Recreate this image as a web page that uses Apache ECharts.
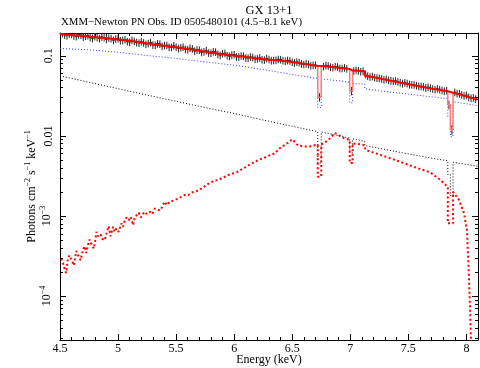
<!DOCTYPE html>
<html><head><meta charset="utf-8">
<script src="https://cdn.jsdelivr.net/npm/echarts@6/dist/echarts.min.js"></script>
<style>html,body{margin:0;padding:0;background:#fff}#c{width:480px;height:368px}</style>
</head><body><div id="c"></div>
<script>
const FONT = '"Liberation Serif", "Times New Roman", serif';
const titleMain = 'GX 13+1';
const titleSub = 'XMM\u2212Newton PN Obs. ID 0505480101 (4.5\u22128.1 keV)';
const xName = 'Energy (keV)';
const yNameRich = '{n|Photons cm}{s|\u22122}{n| s}{s|\u22121}{n| keV}{s|\u22121}';

const yMajorTicks = [1e-4, 1e-3, 0.01, 0.1];
const yMajorLabels = ['{n|10}{s|\u22124}', '{n|10}{s|\u22123}', '0.01', '0.1'];
const yMinorTicks = [3e-5,4e-5,5e-5,6e-5,7e-5,8e-5,9e-5,
  2e-4,3e-4,4e-4,5e-4,6e-4,7e-4,8e-4,9e-4,
  2e-3,3e-3,4e-3,5e-3,6e-3,7e-3,8e-3,9e-3,
  0.02,0.03,0.04,0.05,0.06,0.07,0.08,0.09];

// data points: [energy keV, photons, relative error]
const dataPoints = [
[4.52,0.191,0.11],[4.54,0.183,0.11],[4.56,0.179,0.11],[4.58,0.188,0.11],[4.60,0.186,0.11],[4.62,0.178,0.11],
[4.64,0.175,0.11],[4.66,0.184,0.11],[4.68,0.182,0.11],[4.70,0.172,0.11],[4.72,0.177,0.11],[4.74,0.180,0.11],
[4.76,0.169,0.11],[4.78,0.166,0.11],[4.80,0.175,0.11],[4.82,0.170,0.11],[4.84,0.165,0.11],[4.86,0.173,0.11],
[4.88,0.170,0.11],[4.90,0.161,0.11],[4.92,0.167,0.11],[4.94,0.165,0.11],[4.96,0.157,0.11],[4.98,0.163,0.11],
[5.00,0.165,0.11],[5.02,0.155,0.11],[5.04,0.157,0.11],[5.06,0.160,0.11],[5.08,0.151,0.11],[5.10,0.149,0.11],
[5.12,0.157,0.11],[5.14,0.152,0.11],[5.16,0.147,0.11],[5.18,0.145,0.11],[5.20,0.151,0.11],[5.22,0.146,0.11],
[5.24,0.140,0.11],[5.26,0.143,0.11],[5.28,0.147,0.11],[5.30,0.137,0.11],[5.32,0.136,0.11],[5.34,0.142,0.11],
[5.36,0.141,0.11],[5.38,0.132,0.11],[5.40,0.135,0.11],[5.42,0.136,0.11],[5.44,0.129,0.11],[5.46,0.128,0.11],
[5.48,0.134,0.11],[5.50,0.129,0.11],[5.52,0.124,0.11],[5.54,0.127,0.11],[5.56,0.129,0.11],[5.58,0.121,0.11],
[5.60,0.120,0.11],[5.62,0.125,0.11],[5.64,0.123,0.11],[5.66,0.115,0.11],[5.68,0.119,0.11],[5.70,0.118,0.11],
[5.72,0.111,0.11],[5.74,0.113,0.11],[5.76,0.117,0.11],[5.78,0.109,0.11],[5.80,0.108,0.11],[5.82,0.113,0.11],
[5.84,0.112,0.11],[5.86,0.105,0.11],[5.88,0.102,0.11],[5.90,0.107,0.11],[5.92,0.108,0.11],[5.94,0.101,0.11],
[5.96,0.099,0.11],[5.98,0.103,0.11],[6.00,0.104,0.11],[6.02,0.0975,0.11],[6.04,0.0970,0.11],[6.06,0.1000,0.11],
[6.08,0.0995,0.11],[6.10,0.0945,0.11],[6.12,0.0940,0.11],[6.14,0.0970,0.11],[6.16,0.0960,0.11],[6.18,0.0915,0.11],
[6.20,0.0920,0.11],[6.22,0.0945,0.11],[6.24,0.0900,0.11],[6.26,0.0890,0.11],[6.28,0.0930,0.11],[6.30,0.0905,0.11],
[6.32,0.0875,0.11],[6.34,0.0880,0.11],[6.36,0.0885,0.11],[6.38,0.0905,0.11],[6.40,0.0900,0.11],[6.42,0.0875,0.11],
[6.44,0.0860,0.11],[6.46,0.0880,0.11],[6.48,0.0870,0.11],[6.50,0.0835,0.11],[6.52,0.0820,0.11],[6.54,0.0840,0.11],
[6.56,0.0825,0.11],[6.58,0.0795,0.11],[6.60,0.0785,0.11],[6.62,0.0800,0.11],[6.64,0.0785,0.11],[6.66,0.0755,0.11],
[6.68,0.0765,0.11],[6.70,0.0770,0.11],[6.735,0.0305,0.12],[6.77,0.0738,0.11],[6.79,0.0760,0.11],[6.81,0.0752,0.11],
[6.83,0.0725,0.11],[6.85,0.0718,0.11],[6.87,0.0738,0.11],[6.89,0.0730,0.11],[6.91,0.0700,0.11],[6.93,0.0698,0.11],
[6.95,0.0712,0.11],[6.97,0.0692,0.11],[7.01,0.0365,0.12],[7.03,0.0650,0.11],[7.05,0.0662,0.11],[7.07,0.0655,0.11],
[7.09,0.0636,0.11],[7.11,0.0648,0.11],[7.13,0.0590,0.11],[7.15,0.0560,0.11],[7.17,0.0546,0.11],[7.19,0.0555,0.11],
[7.21,0.0537,0.11],[7.23,0.0530,0.11],[7.25,0.0526,0.11],[7.27,0.0518,0.11],[7.29,0.0507,0.11],[7.31,0.0512,0.11],
[7.33,0.0498,0.11],[7.35,0.0490,0.11],[7.37,0.0484,0.11],[7.39,0.0488,0.11],[7.41,0.0476,0.11],[7.43,0.0465,0.11],
[7.45,0.0453,0.11],[7.47,0.0462,0.11],[7.49,0.0454,0.11],[7.51,0.0441,0.11],[7.53,0.0438,0.11],[7.55,0.0436,0.11],
[7.57,0.0427,0.11],[7.59,0.0419,0.11],[7.61,0.0418,0.11],[7.63,0.0412,0.11],[7.65,0.0401,0.11],[7.67,0.0407,0.11],
[7.69,0.0398,0.11],[7.71,0.0388,0.11],[7.73,0.0380,0.11],[7.75,0.0389,0.11],[7.77,0.0382,0.11],[7.79,0.0372,0.11],
[7.81,0.0364,0.11],[7.83,0.0370,0.11],[7.85,0.0245,0.12],[7.875,0.0120,0.14],[7.90,0.0352,0.11],[7.92,0.0340,0.11],
[7.94,0.0337,0.11],[7.96,0.0327,0.11],[7.98,0.0318,0.11],[8.00,0.0323,0.11],[8.02,0.0305,0.11],[8.04,0.0297,0.11],
[8.06,0.0300,0.11],[8.08,0.0290,0.11]
];
const binHalfWidth = 0.012;

// total model (red solid), continuum part
const modelTotal = [
[4.50,0.188],[4.60,0.182],[4.70,0.177],[4.80,0.171],[4.90,0.166],[5.00,0.160],[5.10,0.154],[5.20,0.147],
[5.30,0.140],[5.40,0.134],[5.50,0.128],[5.60,0.122],[5.70,0.116],[5.80,0.110],[5.90,0.105],[6.00,0.101],
[6.10,0.097],[6.20,0.093],[6.30,0.0895],[6.40,0.0868],[6.50,0.0840],[6.60,0.0795],[6.70,0.0755],[6.72,0.0752],
[6.75,0.0748],[6.80,0.0735],[6.90,0.0712],[6.995,0.0685],[7.02,0.0655],[7.10,0.0645],[7.125,0.0640],
[7.125,0.0565],[7.20,0.0540],[7.30,0.0505],[7.40,0.0472],[7.50,0.0442],[7.60,0.0415],[7.70,0.0390],[7.80,0.0370],
[7.84,0.0362],[7.885,0.0347],[7.90,0.0343],[8.00,0.0312],[8.10,0.0284]
];
// total model absorption dips
const modelDips = [
[[6.72,0.0752],[6.72,0.0305],[6.75,0.0305],[6.75,0.0748]],
[[6.995,0.0685],[6.995,0.0365],[7.02,0.0365],[7.02,0.0655]],
[[7.84,0.0362],[7.84,0.0245],[7.862,0.0245],[7.862,0.0120],[7.885,0.0120],[7.885,0.0347]]
];

// blue dotted component
const compBlue = [
[4.50,0.124],[4.75,0.119],[5.00,0.111],[5.25,0.101],[5.50,0.093],[5.75,0.084],[6.00,0.0765],[6.25,0.0675],
[6.50,0.0585],[6.70,0.0527],[6.72,0.0523],[6.72,0.0226],[6.75,0.0226],[6.75,0.0516],[6.995,0.0470],[6.995,0.0259],
[7.02,0.0259],[7.02,0.0456],[7.10,0.0445],[7.125,0.0442],[7.125,0.0390],[7.25,0.0366],[7.50,0.0333],[7.75,0.0302],
[7.84,0.0291],[7.84,0.0175],[7.862,0.0175],[7.862,0.0098],[7.885,0.0098],[7.885,0.0268],[8.00,0.0252],[8.10,0.0238]
];

// black dotted component
const compBlack = [
[4.50,0.0564],[4.75,0.0468],[5.00,0.0389],[5.25,0.0324],[5.50,0.0271],[5.75,0.0226],[6.00,0.0191],[6.25,0.0158],
[6.50,0.0132],[6.72,0.0113],[6.72,0.0046],[6.75,0.0046],[6.75,0.0112],[6.995,0.0094],[6.995,0.0062],[7.02,0.0062],
[7.02,0.0092],[7.10,0.0087],[7.125,0.0086],[7.125,0.0076],[7.25,0.0070],[7.50,0.00596],[7.75,0.00513],[7.84,0.0049],
[7.84,0.0033],[7.862,0.0033],[7.862,0.0018],[7.885,0.0018],[7.885,0.0047],[8.10,0.00417]
];

// red dotted component
const compRed = [
[4.510,2.94e-4],[4.524,2.67e-4],[4.539,2.20e-4],[4.553,1.94e-4],[4.568,2.94e-4],[4.582,3.23e-4],[4.597,3.08e-4],
[4.620,2.42e-4],[4.640,3.66e-4],[4.660,3.14e-4],[4.677,2.80e-4],[4.697,3.73e-4],[4.712,4.19e-4],[4.726,3.46e-4],
[4.740,4.31e-4],[4.755,5.08e-4],[4.769,4.53e-4],[4.792,3.92e-4],[4.804,4.99e-4],[4.813,6.34e-4],[4.827,5.60e-4],
[4.850,5.93e-4],[4.862,5.23e-4],[4.885,4.99e-4],[4.908,6.65e-4],[4.919,7.47e-4],[4.936,5.60e-4],[4.957,7.33e-4],
[4.971,6.34e-4],[4.985,6.98e-4],[5.005,6.34e-4],[5.029,8.07e-4],[5.043,7.33e-4],[5.057,8.71e-4],[5.072,9.60e-4],
[5.092,8.89e-4],[5.109,9.78e-4],[5.130,7.69e-4],[5.144,9.60e-4],[5.158,9.78e-4],[5.178,1.10e-3],[5.196,9.60e-4],
[5.207,1.03e-3],[5.230,1.13e-3],[5.245,1.06e-3],[5.259,1.10e-3],[5.274,1.13e-3],[5.294,1.06e-3],[5.317,1.24e-3],
[5.331,1.31e-3],[5.346,1.19e-3],[5.369,1.19e-3],[5.380,1.33e-3],[5.403,1.51e-3],[5.418,1.37e-3],[5.432,1.44e-3],
[5.446,1.51e-3],[5.461,1.54e-3],[5.490,1.58e-3],[5.518,1.66e-3],[5.547,1.74e-3],[5.576,1.83e-3],[5.605,1.83e-3],
[5.634,1.96e-3],[5.663,2.05e-3],[5.677,2.15e-3],[5.691,2.07e-3],[5.720,2.22e-3],[5.735,2.28e-3],[5.763,2.44e-3],
[5.792,2.61e-3],[5.807,2.56e-3],[5.835,2.77e-3],[5.864,2.82e-3],[5.893,2.96e-3],[5.922,3.11e-3],[5.951,3.26e-3],
[5.979,3.36e-3],[6.023,3.52e-3],[6.066,3.84e-3],[6.109,4.15e-3],[6.138,4.44e-3],[6.167,4.66e-3],[6.210,5.03e-3],
[6.253,5.28e-3],[6.296,5.65e-3],[6.354,6.10e-3],[6.383,6.84e-3],[6.412,7.39e-3],[6.441,7.75e-3],[6.50,9.1e-3],
[6.55,7.6e-3],[6.60,7.4e-3],[6.65,7.4e-3],[6.70,7.7e-3],[6.72,7.8e-3],[6.72,3.1e-3],[6.75,3.1e-3],[6.75,7.8e-3],
[6.815,8.95e-3],[6.866,0.0109],[6.944,9.4e-3],[6.995,8.9e-3],[6.995,4.6e-3],[7.02,4.6e-3],[7.02,8.1e-3],
[7.10,7.8e-3],[7.125,7.6e-3],[7.13,6.7e-3],[7.26,5.8e-3],[7.406,4.9e-3],[7.55,4.1e-3],[7.69,3.5e-3],[7.78,2.8e-3],
[7.84,2.3e-3],[7.84,8.1e-4],[7.885,8.1e-4],[7.885,2.0e-3],[7.938,1.58e-3],[7.98,1.08e-3],[8.005,6.6e-4],
[8.02,2.1e-4],[8.033,6e-5],[8.045,1.5e-5]
];

const X_MIN = 4.5, X_MAX = 8.1, Y_MIN = 2.83e-5, Y_MAX = 0.193;

const chart = echarts.init(document.getElementById('c'), null, {renderer: 'canvas'});
const black = '#000';
const richBase = {
  n: {fontSize: 12, fontFamily: FONT, color: black, lineHeight: 16},
  s: {fontSize: 8, fontFamily: FONT, color: black, lineHeight: 8, verticalAlign: 'top'}
};
function yFmt(v) {
  for (let i = 0; i < yMajorTicks.length; i++) {
    if (Math.abs(Math.log10(v) - Math.log10(yMajorTicks[i])) < 1e-6) return yMajorLabels[i];
  }
  return '';
}
function xAxisCfg(pos, showLabel) {
  return {
    type: 'value', position: pos, min: X_MIN, max: X_MAX, interval: 0.5,
    name: showLabel ? xName : '', nameLocation: 'middle', nameGap: 14, nameMoveOverlap: false,
    nameTextStyle: {fontFamily: FONT, fontSize: 12, color: black},
    axisLine: {show: true, onZero: false, lineStyle: {color: black, width: 1}},
    axisTick: {show: true, inside: true, length: 6, lineStyle: {color: black, width: 1}},
    minorTick: {show: true, splitNumber: 5, length: 3, lineStyle: {color: black, width: 1}},
    axisLabel: {show: showLabel, margin: 3, fontFamily: FONT, fontSize: 12, color: black, showMaxLabel: false,
      formatter: v => String(v)},
    splitLine: {show: false}, minorSplitLine: {show: false}
  };
}
function yAxisCfg(pos, major, showLabel) {
  const vals = major ? yMajorTicks : yMinorTicks;
  return {
    type: 'log', logBase: 10, position: pos, min: Y_MIN, max: Y_MAX,
    name: showLabel ? yNameRich : '', nameLocation: 'middle', nameGap: 20, nameRotate: 90, nameMoveOverlap: false,
    nameTextStyle: {rich: richBase},
    axisLine: {show: major, onZero: false, lineStyle: {color: black, width: 1}},
    axisTick: {show: true, inside: true, length: major ? 6 : 3, customValues: vals, lineStyle: {color: black, width: 1}},
    axisLabel: {show: showLabel, rotate: 90, margin: 5, customValues: yMajorTicks, formatter: yFmt,
      fontFamily: FONT, fontSize: 12, color: black, rich: richBase},
    splitLine: {show: false}
  };
}

const dipSeries = modelDips.map((seg, i) => ({
  type: 'line', name: 'model dip ' + (i + 1), data: seg, showSymbol: false, symbol: 'none', z: 5,
  lineStyle: {color: '#ff7a7a', width: 1.5}
}));

const option = {
  animation: false,
  backgroundColor: '#fff',
  title: [
    {text: titleMain, left: 269, top: 4, padding: 0, textAlign: 'center',
      textStyle: {fontFamily: FONT, fontSize: 12.5, fontWeight: 'normal', color: black}},
    {text: titleSub, left: 61, top: 17, padding: 0, textAlign: 'left',
      textStyle: {fontFamily: FONT, fontSize: 10.8, fontWeight: 'normal', color: black}}
  ],
  grid: {left: 60, right: 2, top: 33, bottom: 28, containLabel: false, outerBoundsMode: 'none'},
  xAxis: [xAxisCfg('bottom', true), xAxisCfg('top', false)],
  yAxis: [yAxisCfg('left', true, true), yAxisCfg('left', false, false),
          yAxisCfg('right', true, false), yAxisCfg('right', false, false)],
  series: [
    {type: 'line', name: 'black comp', data: compBlack, showSymbol: false, symbol: 'none', z: 2,
      lineStyle: {color: '#000', width: 1, type: [1, 2]}},
    {type: 'line', name: 'blue comp', data: compBlue, showSymbol: false, symbol: 'none', z: 2,
      lineStyle: {color: '#3a3aff', width: 1, type: [1, 2]}},
    {type: 'line', name: 'red comp', data: compRed, showSymbol: false, symbol: 'none', z: 3,
      lineStyle: {color: '#ff0000', width: 2, type: [2, 2.5]}},
    ...dipSeries,
    {type: 'custom', name: 'data', data: dataPoints, z: 4, clip: true,
      encode: {x: 0, y: 1},
      renderItem: function (params, api) {
        const e = api.value(0), y = api.value(1), r = api.value(2);
        const pL = api.coord([e - binHalfWidth, y]);
        const pR = api.coord([e + binHalfWidth, y]);
        const pT = api.coord([e, y * (1 + r)]);
        const pB = api.coord([e, y * (1 - r)]);
        return {type: 'group', children: [
          {type: 'line', shape: {x1: pL[0], y1: pL[1], x2: pR[0], y2: pR[1]}, style: {stroke: '#222', lineWidth: 1}},
          {type: 'line', shape: {x1: pT[0], y1: pT[1], x2: pB[0], y2: pB[1]}, style: {stroke: '#222', lineWidth: 1}}
        ]};
      }},
    {type: 'line', name: 'model', data: modelTotal, showSymbol: false, symbol: 'none', z: 6,
      lineStyle: {color: '#ff0000', width: 2}}
  ]
};
chart.setOption(option);
</script></body></html>
